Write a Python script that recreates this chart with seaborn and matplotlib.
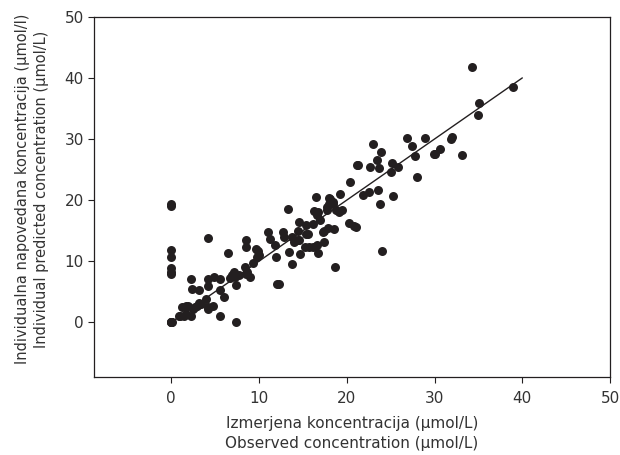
"""Observed vs individual predicted concentration, with line of identity."""
import matplotlib
matplotlib.use("Agg")
import matplotlib.pyplot as plt
import pandas as pd
import seaborn as sns

# observed concentration (umol/L)
observed = [
    0, 0, 0, 0, 0, 0, 0, 0, 0, 0, 0.05,
    0.9, 1.0, 1.2, 1.5, 1.7, 1.7, 1.9, 2.3, 2.5, 2.7, 2.9, 3.2, 3.4, 4.0,
    4.2, 4.2, 4.8, 5.5, 7.4,
    2.2, 2.4, 3.2, 4.2, 4.2, 4.9, 5.6, 5.5, 6.0, 4.2, 6.5,
    6.7, 6.9, 7.1, 7.4, 7.3, 7.7, 8.5, 8.5, 8.4, 8.6, 8.5, 9.0, 9.3, 9.6,
    9.9, 9.8, 10.0,
    11.0, 11.2, 11.8, 11.9, 12.1, 12.3, 12.7, 12.9, 13.3, 13.4, 13.8, 13.8,
    14.0, 14.4, 14.5, 14.4, 14.6, 14.7, 15.4, 15.6, 15.4, 15.2, 15.7, 16.1,
    16.2, 16.5, 16.3, 16.7, 16.6, 16.9, 16.6, 16.7, 17.3, 17.4, 17.4, 17.9,
    17.7, 17.8, 18.0, 18.1, 18.4, 18.0, 18.4, 18.5, 18.7, 18.8, 19.1, 19.5,
    19.2, 20.4, 20.3, 20.8, 21.0, 21.3, 21.2, 21.9, 22.5, 22.7, 23.0, 23.4,
    23.5, 23.7, 23.8, 23.9, 24.0, 25.0, 25.2, 25.3, 25.8, 26.9, 27.4, 27.8,
    28.0, 28.9, 29.9, 30.1, 30.6, 32.0, 31.9, 33.1, 34.3, 34.9, 35.1, 38.9,
]

# individual predicted concentration (umol/L)
predicted = [
    19.4, 19.0, 11.9, 10.7, 8.8, 8.2, 7.9, 0, 0, 0.1, 0,
    1.1, 1.1, 2.5, 1.1, 1.4, 2.7, 2.7, 1.1, 2.2, 2.5, 2.7, 3.1, 3.0, 3.8,
    2.2, 2.5, 2.7, 1.0, 0.0,
    7.0, 5.4, 5.2, 5.9, 7.1, 7.4, 7.1, 5.2, 4.1, 13.8, 11.4,
    7.2, 7.7, 8.2, 6.1, 7.4, 7.7, 13.5, 12.3, 9.0, 8.2, 7.9, 7.4, 9.7, 12.0,
    11.6, 10.7, 11.0,
    14.8, 13.7, 12.6, 10.7, 6.2, 6.2, 14.8, 13.9, 18.6, 11.5, 9.5, 13.9,
    13.1, 13.5, 16.4, 15.0, 13.4, 11.1, 16.0, 14.5, 14.4, 12.3, 12.3, 12.3,
    16.1, 20.5, 18.2, 18.0, 17.5, 16.7, 12.6, 11.3, 14.8, 13.1, 15.0, 15.5,
    18.3, 18.9, 20.4, 20.2, 19.7, 19.4, 19.4, 15.3, 9.0, 18.3, 18.1, 18.4,
    21.0, 23.0, 16.2, 15.7, 15.6, 25.8, 25.7, 20.9, 21.3, 25.4, 29.1, 26.5,
    21.6, 25.3, 19.4, 27.9, 11.6, 24.6, 26.0, 20.6, 25.4, 30.2, 28.9, 27.2,
    23.7, 30.2, 27.5, 27.6, 28.4, 30.3, 30.0, 27.4, 41.8, 34.0, 35.9, 38.5,
]

# line of identity
line_x = [0, 40]
line_y = [0, 40]

ticks = [0, 10, 20, 30, 40, 50]

df = pd.DataFrame({"observed": observed, "predicted": predicted})

INK = "#231f20"

sns.set_style("ticks")
plt.rcParams["font.family"] = ["DejaVu Sans"]

fig = plt.figure(figsize=(6.2, 4.55), dpi=100)
ax = fig.add_axes([0.151, 0.171, 0.833, 0.792])

ax.plot(line_x, line_y, color=INK, lw=1.0, zorder=2)
sns.scatterplot(
    data=df, x="observed", y="predicted", ax=ax,
    color=INK, s=42, linewidth=0, zorder=3,
)

ax.set_xlim(-8.85, 50)
ax.set_ylim(-9.0, 50)
ax.set_xticks(ticks)
ax.set_yticks(ticks)
ax.tick_params(labelsize=11, length=4, width=0.8, color=INK, labelcolor="#333333")
ax.tick_params(axis="x", pad=6)
ax.tick_params(axis="y", pad=3)
for sp in ax.spines.values():
    sp.set_linewidth(0.9)
    sp.set_color(INK)

ax.set_xlabel("Izmerjena koncentracija (µmol/L)\nObserved concentration (µmol/L)",
              fontsize=11, color="#333333", linespacing=1.42, labelpad=7)
ax.set_ylabel("Individualna napovedana koncentracija (µmol/l)\n"
              "Individual predicted concentration (µmol/L)",
              fontsize=10.5, color="#333333", linespacing=1.36)
ax.yaxis.set_label_coords(-0.086, 0.522)

fig.savefig("out.png", dpi=100)
